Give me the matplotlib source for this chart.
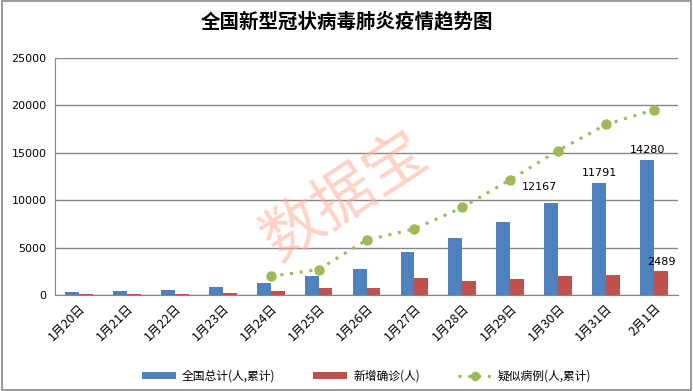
import numpy as np
import matplotlib.pyplot as plt
from matplotlib.patches import Rectangle

plt.rcParams['font.family'] = ['Noto Sans CJK SC', 'DejaVu Sans']

dates = ['1月20日', '1月21日', '1月22日', '1月23日', '1月24日', '1月25日', '1月26日',
         '1月27日', '1月28日', '1月29日', '1月30日', '1月31日', '2月1日']
total = [291, 440, 571, 830, 1287, 1975, 2744, 4515, 5974, 7711, 9692, 11791, 14280]
new_cases = [77, 149, 131, 259, 444, 688, 769, 1771, 1459, 1737, 1982, 2102, 2489]
suspected = [None, None, None, None, 1965, 2684, 5794, 6973, 9239, 12167, 15238, 17988, 19544]

blue = '#4F81BD'
red = '#C0504D'
green = '#9BBB59'

fig = plt.figure(figsize=(6.93, 3.91), dpi=100)
ax = fig.add_axes([55 / 693, 1 - 295 / 391, 623 / 693, 237 / 391])

x = np.arange(len(dates))
w = 0.29
b1 = ax.bar(x - w / 2, total, w, color=blue, label='全国总计(人,累计)', zorder=3)
b2 = ax.bar(x + w / 2, new_cases, w, color=red, label='新增确诊(人)', zorder=3)

sx = [i for i, v in enumerate(suspected) if v is not None]
sy = [v for v in suspected if v is not None]
ln, = ax.plot(sx, sy, color=green, linestyle=(0, (1, 2.2)), linewidth=2.2,
              marker='o', markersize=6.5, label='疑似病例(人,累计)', zorder=4)

ax.set_xlim(-0.5, len(dates) - 0.5)
ax.set_ylim(0, 25000)
ax.set_yticks(range(0, 25001, 5000))
ax.yaxis.grid(True, color='#878787', linewidth=1, zorder=0)
ax.tick_params(axis='y', length=0, labelsize=8, pad=6)
for lab in ax.get_yticklabels():
    lab.set_family('DejaVu Sans')
ax.set_xticks(x)
ax.set_xticklabels(dates, rotation=45, ha='right', rotation_mode='anchor', fontsize=9)
ax.tick_params(axis='x', length=0, pad=5)
for s in ['top', 'right']:
    ax.spines[s].set_visible(False)
for s in ['left', 'bottom']:
    ax.spines[s].set_color('#878787')

# data labels
ax.text(9 + 0.25, suspected[9] - 250, str(suspected[9]), fontsize=8, family='DejaVu Sans',
        ha='left', va='top')
ax.text(11 - w / 2, total[11] + 500, str(total[11]), fontsize=8, family='DejaVu Sans',
        ha='center', va='bottom')
ax.text(12 - w / 2, total[12] + 500, str(total[12]), fontsize=8, family='DejaVu Sans',
        ha='center', va='bottom')
ax.text(12 + w / 2, new_cases[12] + 500, str(new_cases[12]), fontsize=8, family='DejaVu Sans',
        ha='center', va='bottom')

fig.text(0.5, 1 - 22 / 391, '全国新型冠状病毒肺炎疫情趋势图', ha='center', va='center',
         fontsize=14, fontweight='bold')

fig.text(345 / 693, 1 - 197 / 391, '数据宝', ha='center', va='center', rotation=33,
         fontsize=44, color='#FFAE98', alpha=0.55, zorder=10)

ax.legend([b1, b2, ln], [b1.get_label(), b2.get_label(), ln.get_label()],
          loc='upper center', bbox_to_anchor=(0.5, -0.27), ncol=3, frameon=False,
          fontsize=8.5, handlelength=2.9, handleheight=0.5, handletextpad=0.5,
          columnspacing=3.2, markerscale=0.9)

fig.patches.append(Rectangle((0.003, 0.003), 0.994, 0.994, transform=fig.transFigure,
                             fill=False, edgecolor='#878787', linewidth=1.2))

fig.savefig('out.png', dpi=100)
